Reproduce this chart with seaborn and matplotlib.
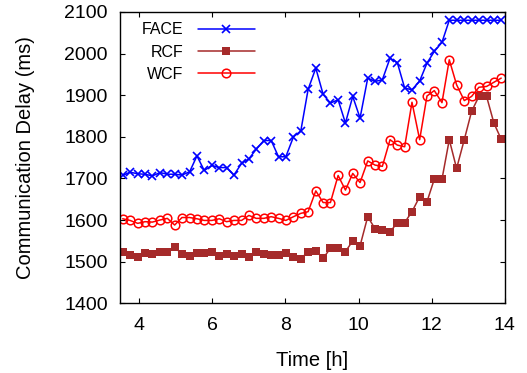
import pandas as pd
import seaborn as sns
import matplotlib.pyplot as plt

# time axis (hours), shared by all three series
hours = [3.55, 3.75, 3.96, 4.16, 4.36, 4.57, 4.77, 4.97, 5.17, 5.38,
         5.58, 5.78, 5.99, 6.19, 6.39, 6.59, 6.80, 7.00, 7.20, 7.41,
         7.61, 7.81, 8.01, 8.22, 8.42, 8.62, 8.83, 9.03, 9.23, 9.44,
         9.64, 9.84, 10.04, 10.25, 10.45, 10.65, 10.86, 11.06, 11.26, 11.46,
         11.67, 11.87, 12.07, 12.28, 12.48, 12.68, 12.89, 13.09, 13.29, 13.50,
         13.70, 13.90]

face = [1707, 1715, 1711, 1710, 1706, 1714, 1710, 1710, 1708, 1716,
        1754, 1719, 1731, 1726, 1726, 1708, 1736, 1747, 1770, 1791,
        1791, 1752, 1752, 1800, 1814, 1914, 1965, 1902, 1881, 1889,
        1833, 1897, 1845, 1941, 1933, 1937, 1989, 1978, 1917, 1913,
        1934, 1977, 2005, 2027, 2080, 2080, 2080, 2080, 2080, 2080,
        2080, 2080]

rcf = [1522, 1516, 1512, 1520, 1518, 1524, 1524, 1535, 1518, 1514,
       1520, 1520, 1524, 1514, 1519, 1514, 1518, 1511, 1524, 1519,
       1516, 1516, 1520, 1512, 1507, 1524, 1526, 1508, 1532, 1532,
       1524, 1550, 1538, 1608, 1579, 1575, 1571, 1594, 1594, 1620,
       1656, 1644, 1698, 1698, 1793, 1724, 1793, 1861, 1897, 1897,
       1833, 1794]

wcf = [1603, 1599, 1592, 1596, 1595, 1600, 1604, 1588, 1606, 1606,
       1603, 1599, 1599, 1603, 1596, 1599, 1599, 1611, 1604, 1604,
       1608, 1604, 1599, 1608, 1616, 1620, 1670, 1642, 1642, 1707,
       1672, 1712, 1690, 1742, 1732, 1729, 1793, 1780, 1776, 1883,
       1793, 1898, 1911, 1882, 1985, 1925, 1887, 1897, 1919, 1921,
       1931, 1941]

df = pd.DataFrame({'hours': hours, 'FACE': face, 'RCF': rcf, 'WCF': wcf})

sns.set_style('ticks')
plt.rcParams['font.family'] = ['Liberation Sans', 'DejaVu Sans']
plt.rcParams['xtick.direction'] = 'in'
plt.rcParams['ytick.direction'] = 'in'
# gnuplot-like: everything in pure black
for key in ['text.color', 'axes.labelcolor', 'xtick.color', 'ytick.color']:
    plt.rcParams[key] = 'black'

fig = plt.figure(figsize=(5.27, 3.73), dpi=100)
ax = fig.add_axes([0.228, 0.187, 0.730, 0.781])

sns.lineplot(data=df, x='hours', y='FACE', ax=ax, color='#0000ff', lw=1.1,
             marker='x', markersize=6, markeredgewidth=1.2,
             markeredgecolor='#0000ff', label='FACE')
sns.lineplot(data=df, x='hours', y='RCF', ax=ax, color='#a52a2a', lw=1.1,
             marker='s', markersize=6, markeredgewidth=0,
             markerfacecolor='#a52a2a', markeredgecolor='#a52a2a', label='RCF')
sns.lineplot(data=df, x='hours', y='WCF', ax=ax, color='#ff0000', lw=1.1,
             marker='o', markersize=6.2, markeredgewidth=1.1,
             markerfacecolor='none', markeredgecolor='#ff0000', label='WCF')

ax.set_xlim(3.48, 14)
ax.set_ylim(1400, 2100)
ax.set_xticks([4, 6, 8, 10, 12, 14])
ax.set_yticks(range(1400, 2101, 100))
ax.tick_params(top=True, right=True, length=3.6, width=0.8, labelsize=14,
               colors='black')
ax.tick_params(axis='x', pad=10)
ax.tick_params(axis='y', pad=9)
for s in ax.spines.values():
    s.set_linewidth(1.0)
    s.set_color('black')

ax.set_xlabel('Time [h]', fontsize=14.5, labelpad=12)
ax.set_ylabel('Communication Delay (ms)', fontsize=14.5, labelpad=21)

ax.legend(loc='upper left', frameon=False, markerfirst=False, handlelength=3.6,
          handletextpad=0.9, fontsize=11.5, borderaxespad=0, labelspacing=0.45,
          bbox_to_anchor=(0.039, 0.986))

plt.savefig('out.png', dpi=100)
